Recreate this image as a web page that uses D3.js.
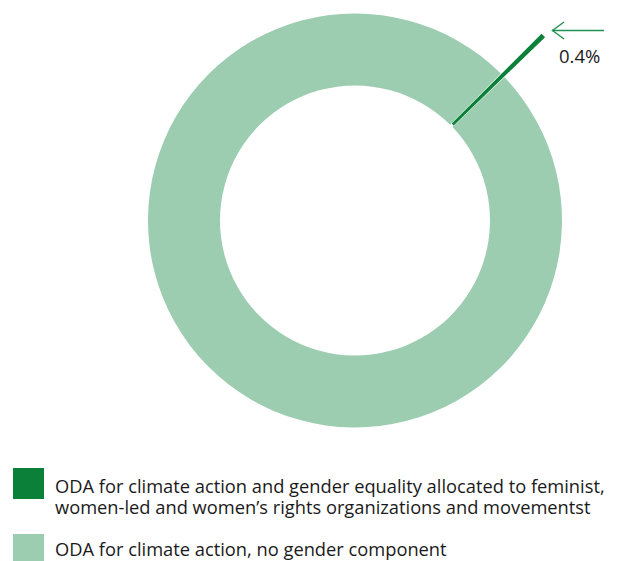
<!DOCTYPE html>
<html><head><meta charset="utf-8">
<script src="https://cdn.jsdelivr.net/npm/d3@7"></script>
<style>body{margin:0;background:#fff}svg{display:block}text{font-family:"Open Sans",Lato,sans-serif;fill:#1a1a1a}</style>
</head><body><svg id="c" width="619" height="561"></svg>
<script>
const categories = ["ODA for climate action and gender equality allocated to feminist, women-led and women\u2019s rights organizations and movementst", "ODA for climate action, no gender component"];
const legendLines = [["ODA for climate action and gender equality allocated to feminist,", "women-led and women\u2019s rights organizations and movementst"], ["ODA for climate action, no gender component"]];
const values = [0.4, 99.6];
const colors = ["#0a8038", "#9ccdb0"];
const valueLabels = ["0.4%"];

const svg = d3.select("#c");
const cx = 355, cy = 220.5, R = 207, r = 135;
const start = (45.5 - 0.72) * Math.PI / 180;
const pie = d3.pie().sort(null).startAngle(start).endAngle(start + 2 * Math.PI);
const arcs = pie(values);
const g = svg.append("g").attr("transform", `translate(${cx},${cy})`);
g.append("path").attr("d", d3.arc().innerRadius(r).outerRadius(R)(arcs[1])).attr("fill", colors[1]);
const dark = arcs[0];
g.append("path").attr("d", d3.arc().innerRadius(r + 2).outerRadius(264)({startAngle: dark.startAngle + 0.003, endAngle: dark.endAngle - 0.003})).attr("fill", colors[0]);

const ag = svg.append("g").attr("stroke", "#1f9150").attr("stroke-width", 1.4).attr("fill", "none");
ag.append("line").attr("x1", 552).attr("y1", 30.5).attr("x2", 604).attr("y2", 30.5);
ag.append("path").attr("d", "M564,22 L552.5,30.5 L564,39");
svg.append("text").attr("x", 559).attr("y", 63).attr("font-size", 18.5).text(valueLabels[0]);

const lg = svg.append("g");
const ly = [468, 534];
const ty = [492.5, 555.5];
legendLines.forEach((lines, i) => {
  lg.append("rect").attr("x", 13).attr("y", ly[i]).attr("width", 31).attr("height", 31).attr("fill", colors[i]);
  lines.forEach((ln, j) => lg.append("text").attr("x", 55).attr("y", ty[i] + j * 21).attr("font-size", 18.3).text(ln));
});
</script></body></html>
